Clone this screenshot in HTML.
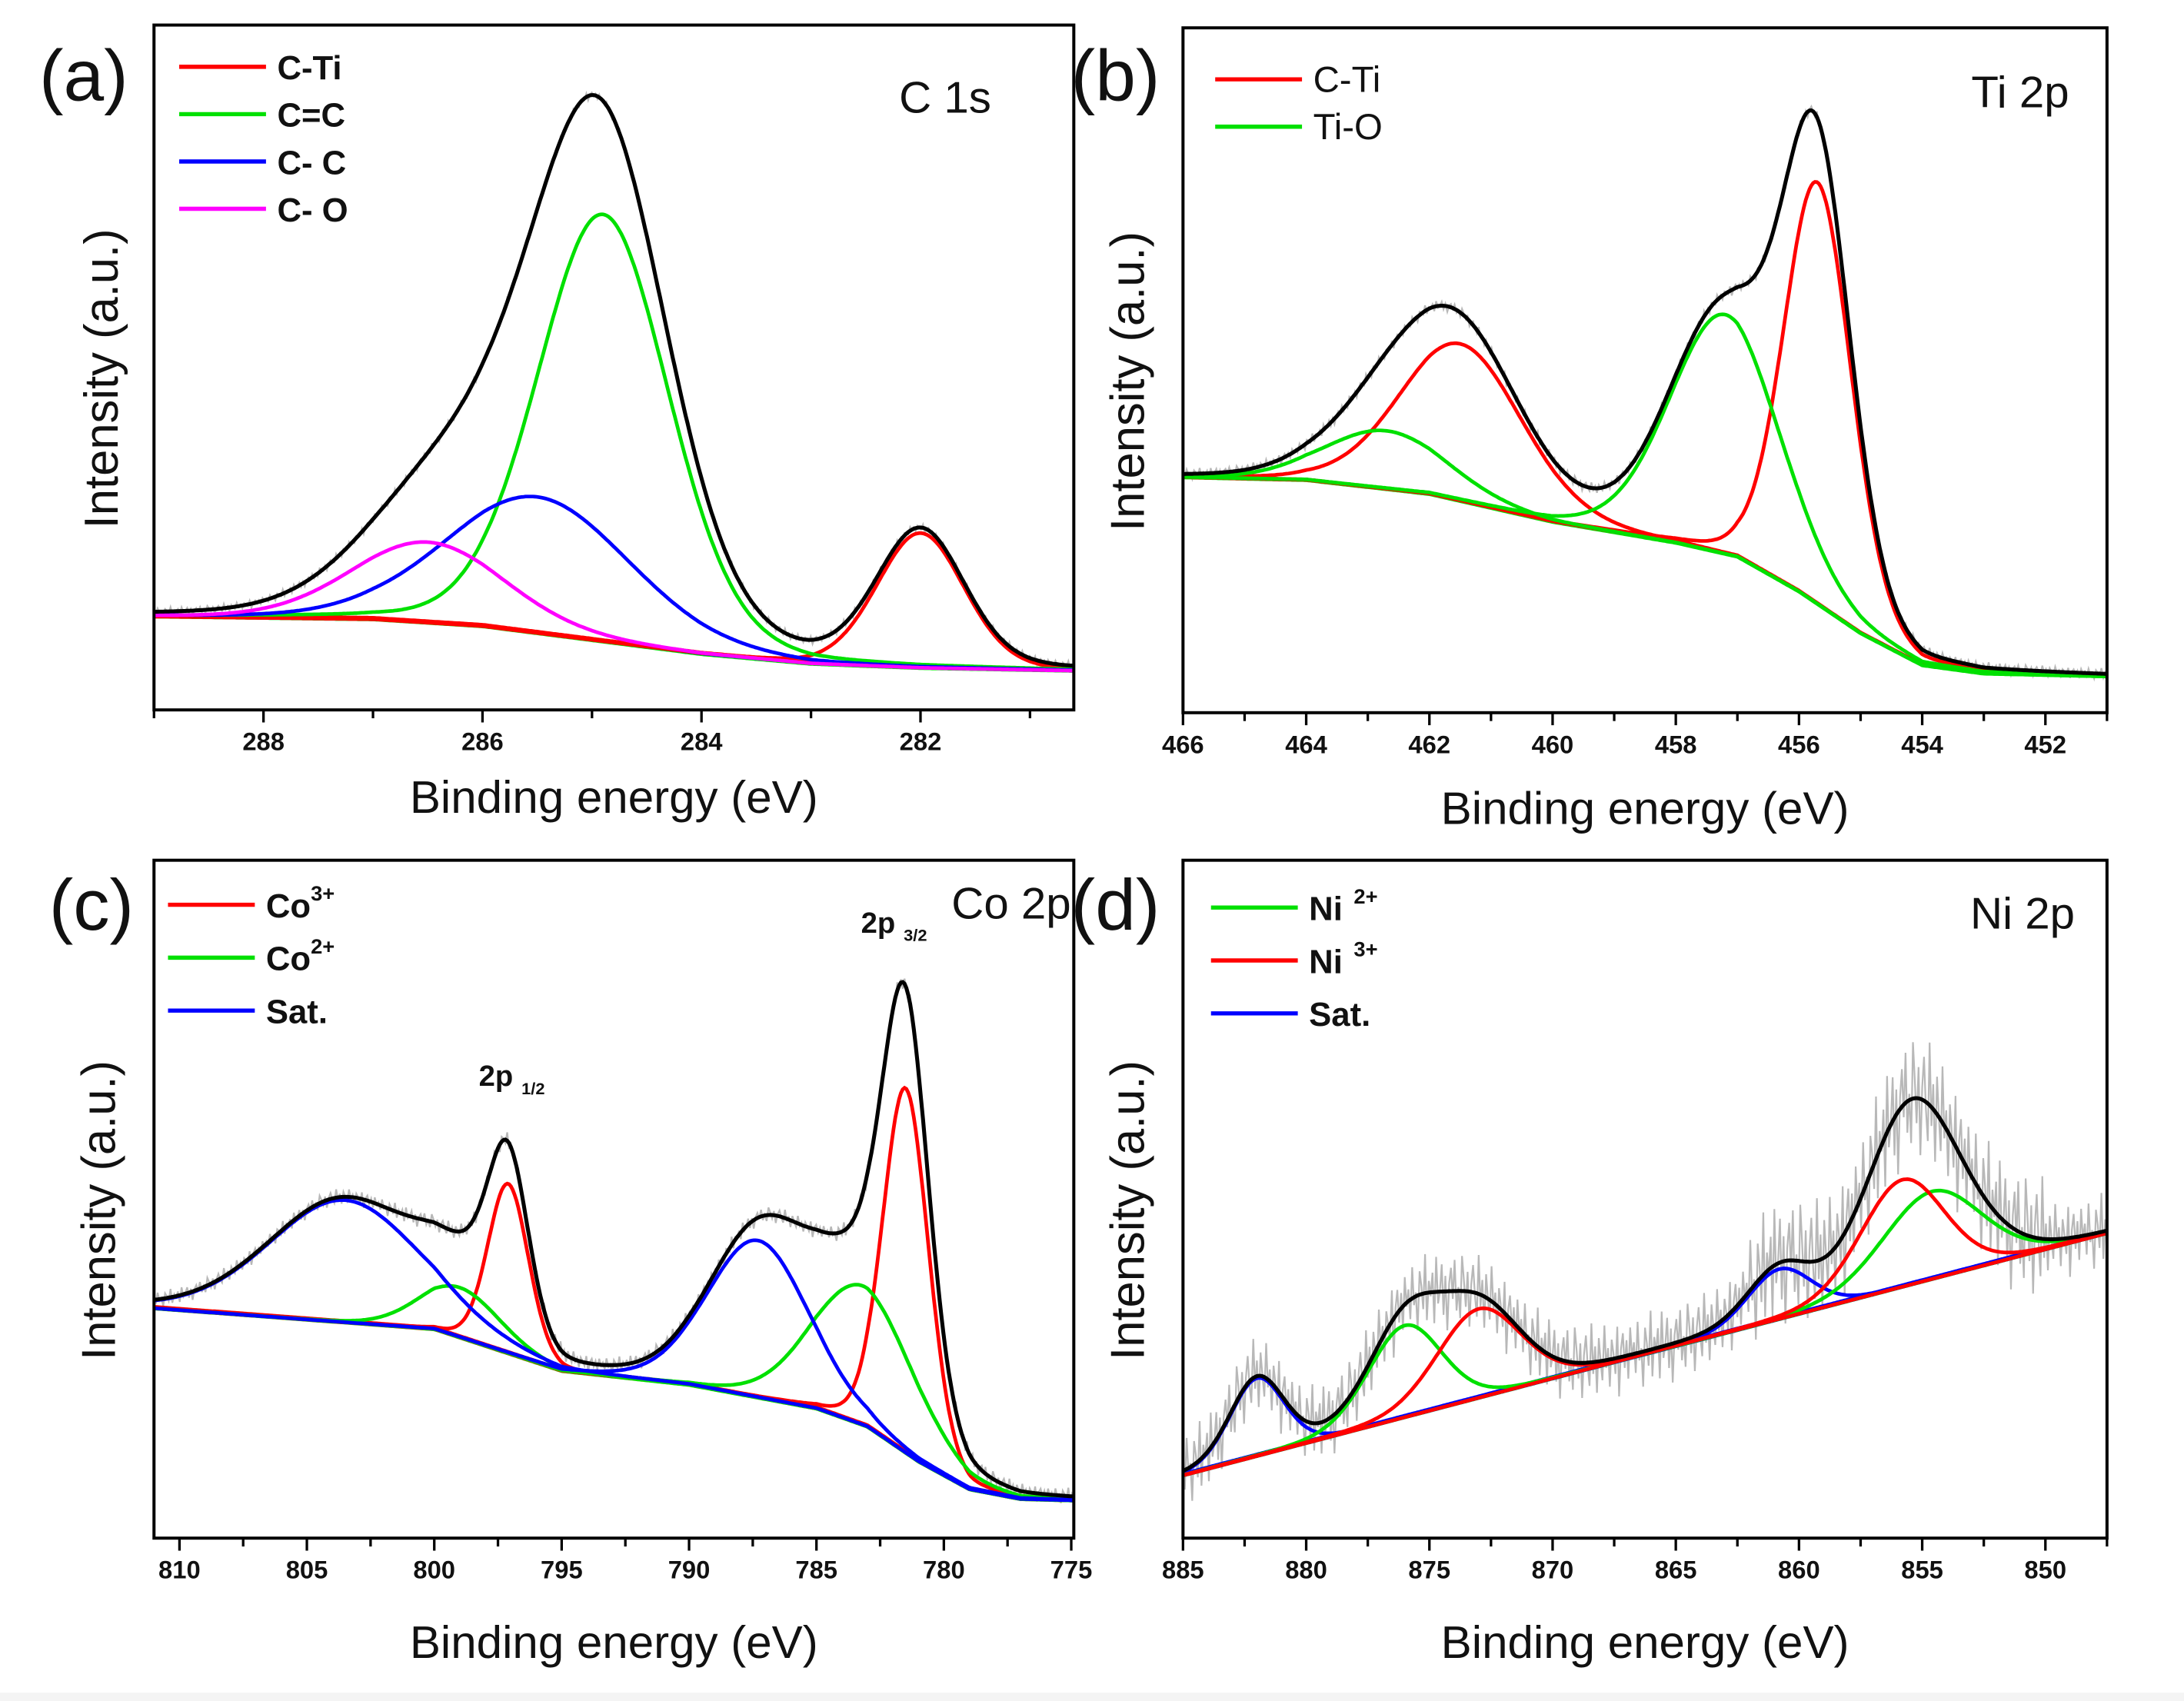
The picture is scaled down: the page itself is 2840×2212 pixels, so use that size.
<!DOCTYPE html>
<html><head><meta charset="utf-8"><style>
html,body{margin:0;padding:0;background:#fff;}
svg{display:block;}
text{font-family:"Liberation Sans",sans-serif;fill:#111;}
</style></head><body>
<svg id="fig" width="2840" height="2212" viewBox="0 0 1560 1222" preserveAspectRatio="none" xmlns="http://www.w3.org/2000/svg">
<rect x="0" y="1216" width="1560" height="6" fill="#f4f4f4"/>
</svg>
<script>
// ---------- data (energies in eV, intensities in arbitrary units) ----------
// Panel (a) C 1s
const aBgE = [289, 287, 286, 285, 284, 283, 282, 280.6];
const aBgV = [67, 65, 60, 50, 40, 33, 30, 28];
const aPeakNames = ["C-Ti", "C=C", "C- C", "C- O"];
const aPeakCenters = [282.0, 284.9, 285.5, 286.5];
const aPeakHeights = [97, 307, 98, 58];
const aPeakWidths = [0.4, 0.6, 0.85, 0.7];
const aTicks = [288, 286, 284, 282];
// Panel (b) Ti 2p
const bBgE = [466, 464, 462, 460, 458, 457, 456, 455, 454, 453, 451];
const bBgV = [169, 167, 157, 137, 122, 112, 87, 57, 34, 28, 26];
const bPeakNames = ["C-Ti", "C-Ti", "Ti-O", "Ti-O"];
const bPeakCenters = [455.7, 461.5, 457.2, 462.7];
const bPeakHeights = [303, 113, 172, 42];
const bPeakWidths = [0.55, 1.0, 0.9, 1.0];
const bTicks = [466, 464, 462, 460, 458, 456, 454, 452];
// Panel (c) Co 2p
const cBgE = [811, 800, 795, 790, 785, 783, 781, 779, 777, 775];
const cBgV = [165, 150, 120, 110, 93, 80, 55, 35, 28, 27];
const cPeakNames = ["Co3+", "Co3+", "Co2+", "Co2+", "Sat.", "Sat."];
const cPeakCenters = [797.1, 781.5, 799.0, 783.2, 803.5, 787.3];
const cPeakHeights = [122, 262, 36, 100, 88, 113];
const cPeakWidths = [0.8, 0.9, 1.6, 2.0, 3.0, 2.0];
const cTicks = [810, 805, 800, 795, 790, 785, 780, 775];
// Panel (d) Ni 2p
const dBgE = [885, 847.5];
const dBgV = [45, 219];
const dPeakNames = ["Sat.", "Sat.", "Ni2+", "Ni2+", "Ni3+", "Ni3+"];
const dPeakCenters = [882.0, 860.8, 876.0, 854.6, 873.0, 855.8];
const dPeakHeights = [56, 36, 66, 63, 64, 77];
const dPeakWidths = [1.1, 1.3, 1.5, 2.0, 1.7, 1.7];
const dTicks = [885, 880, 875, 870, 865, 860, 855, 850];
// measured-noise residuals (hand-read, reused along the raw trace)
const rawResidual = [0.3,-0.5,0.8,-0.2,0.1,-0.9,0.6,0.2,-0.4,1.0,-0.7,0.3,-0.1,0.5,-0.8,0.9,-0.3,0.0,0.7,-0.6,0.4,-1.0,0.2,0.6,-0.2,0.8,-0.5,0.1,-0.7,0.9,0.3,-0.4,0.5,-0.9,0.2,0.7,-0.1,-0.6,1.0,-0.3,0.4,-0.8,0.6,0.0,-0.5,0.9,-0.2,0.3,-0.7,0.5,0.1,-0.4,0.8,-1.0,0.2,0.6,-0.3,0.4,-0.6,0.7,-0.1];

// ---------- helpers ----------
const NS = "http://www.w3.org/2000/svg";
const svg = document.getElementById("fig");
function mk(tag, attrs, parent){
  const e = document.createElementNS(NS, tag);
  for (const k in attrs) e.setAttribute(k, attrs[k]);
  (parent||svg).appendChild(e);
  return e;
}
function interp(E, V, x){
  if (x >= E[0]) return V[0];
  if (x <= E[E.length-1]) return V[V.length-1];
  for (let i=0;i<E.length-1;i++){
    if (x <= E[i] && x >= E[i+1]) { const t=(E[i]-x)/(E[i]-E[i+1]); return V[i]+t*(V[i+1]-V[i]); }
  }
  return V[0];
}
function peak(x, c, h, w){
  const d = (x-c)/w;
  return h*(0.85*Math.exp(-d*d/2) + 0.15/(1+d*d/1.4));
}
const COL = {red:"#ff0000", green:"#00e000", blue:"#0000ff", mag:"#ff00ff", black:"#000"};

function drawPanel(cfg){
  const g = mk("g", {});
  
  
  const {L,T,R,B,e0,e1} = cfg;
  const sx = e => L + (e0-e)/(e0-e1)*(R-L);
  const sy = v => B - v;
  const clip = "clip-"+cfg.id;
  const cp = mk("clipPath", {id:clip}, g); mk("rect",{x:L,y:T,width:R-L,height:B-T},cp);
  const plot = mk("g", {"clip-path":"url(#"+clip+")"}, g);
  const N = 500;
  const xs = []; for (let i=0;i<=N;i++) xs.push(e0-(e0-e1)*i/N);
  const bg = x => interp(cfg.bgE, cfg.bgV, x);
  const total = x => { let s=bg(x); for (let k=0;k<cfg.centers.length;k++) s+=peak(x,cfg.centers[k],cfg.heights[k],cfg.widths[k]); return s; };
  let pr=""; xs.forEach((x,i)=>{ const amp = cfg.noise(x); const v = total(x)+amp*rawResidual[i%rawResidual.length]; pr += (i?"L":"M")+sx(x).toFixed(1)+" "+sy(v).toFixed(1); });
  const raw = mk("path",{d:pr,fill:"none",stroke:"#b8b8b8","stroke-width":1.2},plot);
  
  
  cfg.bgColors.forEach((c,j)=>{
    let p=""; xs.forEach((x,i)=>{p+=(i?"L":"M")+sx(x).toFixed(1)+" "+sy(bg(x)+j*0.6).toFixed(1);});
    const el = mk("path",{d:p,fill:"none",stroke:c,"stroke-width":2.6},plot);
    
    
  });
  for (let k=0;k<cfg.centers.length;k++){
    let p=""; xs.forEach((x,i)=>{p+=(i?"L":"M")+sx(x).toFixed(1)+" "+sy(bg(x)+peak(x,cfg.centers[k],cfg.heights[k],cfg.widths[k])).toFixed(1);});
    const el = mk("path",{d:p,fill:"none",stroke:cfg.colors[k],"stroke-width":2.6},plot);
    
    
  }
  let pe=""; xs.forEach((x,i)=>{pe+=(i?"L":"M")+sx(x).toFixed(1)+" "+sy(total(x)).toFixed(1);});
  const env = mk("path",{d:pe,fill:"none",stroke:"#000","stroke-width":2.8},plot);
  
  
  const fr = mk("rect",{x:L,y:T,width:R-L,height:B-T,fill:"none",stroke:"#000","stroke-width":2.2},g);
  
  
  const step = cfg.ticks[0]-cfg.ticks[1];
  for (let t=cfg.ticks[0]+step; t>=e1-0.001; t-=step/2){
    if (t>e0+0.001) continue;
    const major = cfg.ticks.some(v=>Math.abs(v-t)<1e-6);
    mk("line",{x1:sx(t),x2:sx(t),y1:B,y2:B+(major?9:6),stroke:"#000","stroke-width":1.8},g);
  }
  cfg.ticks.forEach(t=>{
    const tl = mk("text",{x:sx(t),y:B+29,"text-anchor":"middle","font-size":18,"font-weight":"bold"},g);
    tl.textContent = t;
    
    
  });
  const xt = mk("text",{x:(L+R)/2,y:cfg.xtY,"text-anchor":"middle","font-size":33},g);
  xt.textContent = "Binding energy (eV)";
  
  
  const yt = mk("text",{x:0,y:0,"text-anchor":"middle","font-size":34,transform:"translate("+cfg.ytX+","+((T+B)/2+8)+") rotate(-90)"},g);
  yt.textContent = "Intensity (a.u.)";
  
  
  const pl = mk("text",{x:cfg.plX,y:cfg.plY,"font-size":52},g);
  pl.textContent = cfg.label;
  
  
  const tt = mk("text",{x:cfg.ttX,y:cfg.ttY,"text-anchor":"end","font-size":32},g);
  tt.textContent = cfg.title;
  
  
  cfg.legend.forEach((lg,i)=>{
    const y = cfg.legY + i*cfg.legDy;
    const ln = mk("line",{x1:cfg.legX,x2:cfg.legX+62,y1:y,y2:y,stroke:lg[1],"stroke-width":3},g);
    
    
    const tx = mk("text",{x:cfg.legX+70,y:y+9,"font-size":cfg.legBold?24:26,"font-weight":cfg.legBold?"bold":"normal"},g);
    
    
    tx.textContent = lg[0];
    if (lg[2]) { const s = mk("tspan",{dx:lg[3]||0,dy:-12,"font-size":15},tx); s.textContent = lg[2]; }
  });
  return {g,sx,sy};
}

drawPanel({id:"a",name:"panel-a-c1s",L:110,T:18,R:767,B:510,e0:289,e1:280.6,
  bgE:aBgE,bgV:aBgV,centers:aPeakCenters,heights:aPeakHeights,widths:aPeakWidths,names:aPeakNames,
  colors:[COL.red,COL.green,COL.blue,COL.mag],bgColors:[COL.green,COL.blue,COL.red],
  noise:x=>3,ticks:aTicks,xtY:584,ytX:84,plX:28,plY:72,label:"(a)",ttX:708,ttY:81,title:"C  1s",
  legX:128,legY:48,legDy:34,legBold:true,
  legend:[["C-Ti",COL.red],["C=C",COL.green],["C- C",COL.blue],["C- O",COL.mag]]});

drawPanel({id:"b",name:"panel-b-ti2p",L:845,T:20,R:1505,B:512,e0:466,e1:451,
  bgE:bBgE,bgV:bBgV,centers:bPeakCenters,heights:bPeakHeights,widths:bPeakWidths,names:bPeakNames,
  colors:[COL.red,COL.red,COL.green,COL.green],bgColors:[COL.green,COL.red],
  noise:x=>4,ticks:bTicks,xtY:592,ytX:817,plX:765,plY:72,label:"(b)",ttX:1478,ttY:77,title:"Ti 2p",
  legX:868,legY:57,legDy:34,legBold:false,
  legend:[["C-Ti",COL.red],["Ti-O",COL.green]]});

const pc = drawPanel({id:"c",name:"panel-c-co2p",L:110,T:618,R:767,B:1105,e0:811,e1:774.9,
  bgE:cBgE,bgV:cBgV,centers:cPeakCenters,heights:cPeakHeights,widths:cPeakWidths,names:cPeakNames,
  colors:[COL.red,COL.red,COL.green,COL.green,COL.blue,COL.blue],bgColors:[COL.green,COL.blue,COL.red],
  noise:x=>6,ticks:cTicks,xtY:1191,ytX:82,plX:35,plY:668,label:"(c)",ttX:765,ttY:660,title:"Co 2p",
  legX:120,legY:650,legDy:38,legBold:true,
  legend:[["Co",COL.red,"3+"],["Co",COL.green,"2+"],["Sat.",COL.blue]]});
[["2p",342,780,"1/2"],["2p",615,670,"3/2"]].forEach(a=>{
  const t = mk("text",{x:a[1],y:a[2],"font-size":21,"font-weight":"bold"},pc.g);
  
  
  t.textContent = a[0];
  const s = mk("tspan",{dx:6,dy:6,"font-size":12},t); s.textContent = a[3];
});

drawPanel({id:"d",name:"panel-d-ni2p",L:845,T:618,R:1505,B:1105,e0:885,e1:847.5,
  bgE:dBgE,bgV:dBgV,centers:dPeakCenters,heights:dPeakHeights,widths:dPeakWidths,names:dPeakNames,
  colors:[COL.blue,COL.blue,COL.green,COL.green,COL.red,COL.red],bgColors:[COL.green,COL.red,COL.blue],
  noise:x=>(x<862 && x>850)?45:28,ticks:dTicks,xtY:1191,ytX:817,plX:765,plY:668,label:"(d)",ttX:1482,ttY:667,title:"Ni 2p",
  legX:865,legY:652,legDy:38,legBold:true,
  legend:[["Ni",COL.green,"2+",8],["Ni",COL.red,"3+",8],["Sat.",COL.blue]]});
</script>
</body></html>
